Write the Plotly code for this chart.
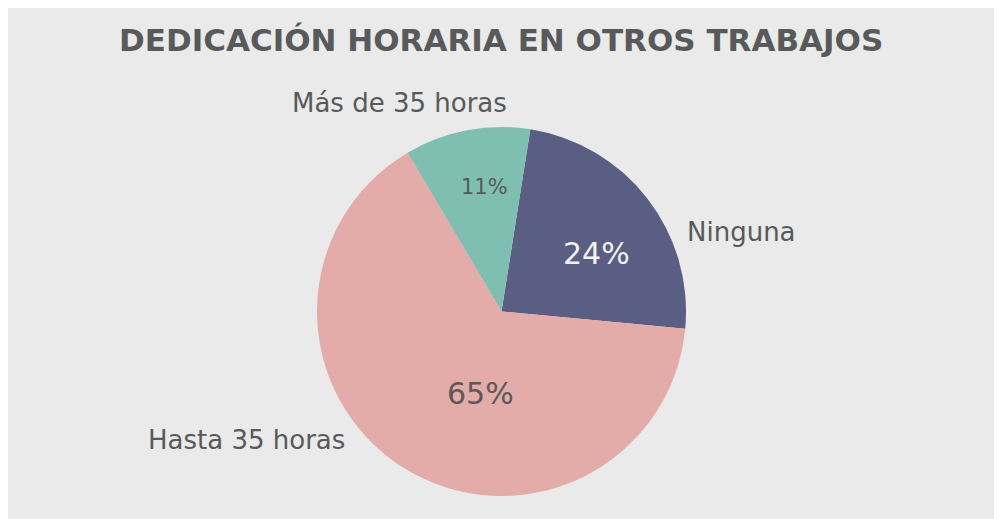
import plotly.graph_objects as go

categories = ["Ninguna", "Hasta 35 horas", "Más de 35 horas"]
values = [24, 65, 11]
colors = ["#5B5E83", "#E4ACA9", "#7FBFB1"]
title_text = "DEDICACIÓN HORARIA EN OTROS TRABAJOS"

OFF = 8  # page body margin
W, H = 1002, 519
cx, cy, r = 501.5 - OFF, 311.5 - OFF, 184.5

fig = go.Figure(go.Pie(
    labels=categories, values=values, sort=False, direction="clockwise",
    rotation=9, marker=dict(colors=colors, line=dict(width=0)),
    textinfo="none", hoverinfo="label+percent", showlegend=False,
    domain=dict(x=[(cx - r) / W, (cx + r) / W], y=[(H - cy - r) / H, (H - cy + r) / H]),
))

FONT = "DejaVu Sans"
TXT = "#58595B"

def ann(text, px, py, size, color=TXT, bold=False):
    fig.add_annotation(
        text=f"<b>{text}</b>" if bold else text, x=(px - OFF) / W, y=1 - (py - OFF) / H,
        xref="paper", yref="paper", xanchor="center", yanchor="middle",
        showarrow=False, font=dict(family=FONT, size=size, color=color))

ann(title_text, 501, 40, 31, bold=True)
label_pos = [(741, 232), (246, 440), (399, 103)]
pct_pos = [(596, 253), (480, 393), (484, 187)]
pct_size = [30, 30, 21]
pct_color = ["#F2F2F2", TXT, TXT]
for i, c in enumerate(categories):
    ann(c, *label_pos[i], 26)
    ann(f"{values[i]}%", *pct_pos[i], pct_size[i], pct_color[i])

fig.update_layout(
    width=W, height=H, margin=dict(l=0, r=0, t=0, b=0),
    paper_bgcolor="#E9EAE9", plot_bgcolor="#E9EAE9",
)
fig.write_html("out.html")
